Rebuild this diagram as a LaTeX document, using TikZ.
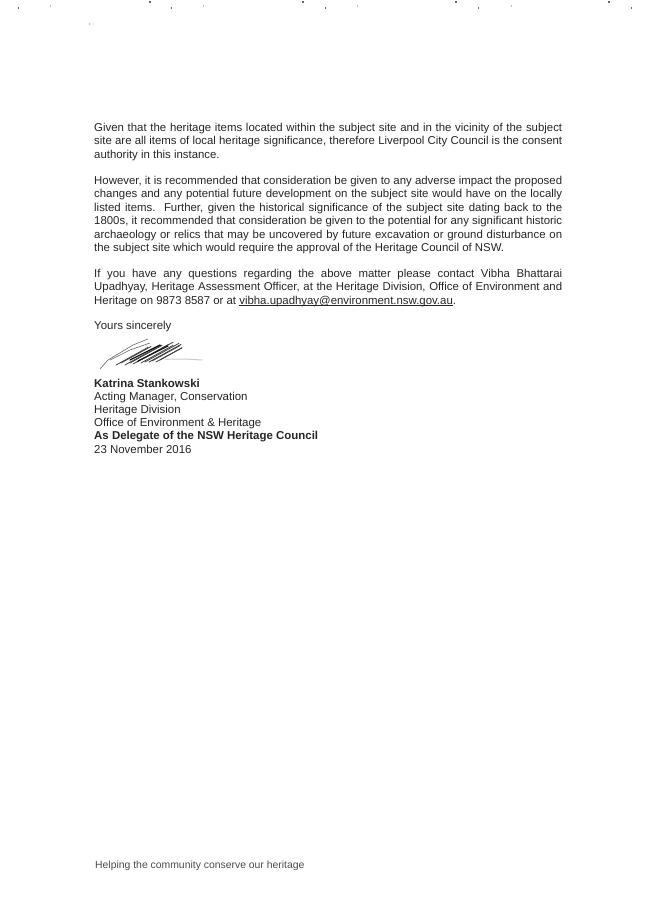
\documentclass[tikz,border=0pt]{standalone}
\usepackage{fontspec}
\setmainfont{Liberation Sans}
\usepackage{tikz}
\hyphenpenalty=10000
\newcommand{\mailline}[1]{\setbox0\hbox{#1}\rlap{\rule[-1.3pt]{\wd0}{0.6pt}}\box0}
\tikzset{
	lettertext/.style={inner sep=0pt, anchor=north west, text width=468pt, align=justify, font=\fontsize{11.4}{13.4}\selectfont, text=black!85},
	sigtext/.style={inner sep=0pt, anchor=north west, align=left, font=\fontsize{11.45}{13.2}\selectfont, text=black!85},
	footertext/.style={inner sep=0pt, anchor=north west, font=\fontsize{10.4}{13}\selectfont, text=black!70},
	pen/.style={line width=0.6pt, black!60, line cap=round},
	speck/.style={fill=black!60, draw=none},
	faintspeck/.style={fill=black!25, draw=none}
}
\begin{document}
\begin{tikzpicture}[x=1pt,y=-1pt]
	\useasboundingbox (0,0) rectangle (653,923);
	\fill[white] (0,0) rectangle (653,923);
	% registration specks along the top
	\foreach \sx in {18,171,325,478,631}
		\fill[speck] (\sx,7) rectangle ++(1.2,2);
	\foreach \sx in {149,302,455,608}
		\fill[speck] (\sx,1.5) rectangle ++(1.6,1.6);
	\foreach \sx in {50,203,357,511}
		\fill[faintspeck] (\sx,5.5) rectangle ++(0.8,1.5);
	\fill[faintspeck] (89,23) rectangle ++(0.6,2);
	\node[lettertext] (para-one) at (94,123) {
		Given that the heritage items located within the subject site and in the vicinity of the subject\linebreak
		site are all items of local heritage significance, therefore Liverpool City Council is the consent\linebreak
		authority in this instance.};
	\node[lettertext] (para-two) at (94,176) {
		However, it is recommended that consideration be given to any adverse impact the proposed\linebreak
		changes and any potential future development on the subject site would have on the locally\linebreak
		listed items.\ \ Further, given the historical significance of the subject site dating back to the\linebreak
		1800s, it recommended that consideration be given to the potential for any significant historic\linebreak
		archaeology or relics that may be uncovered by future excavation or ground disturbance on\linebreak
		the subject site which would require the approval of the Heritage Council of NSW.};
	\node[lettertext] (para-three) at (94,269) {
		If you have any questions regarding the above matter please contact Vibha Bhattarai\linebreak
		Upadhyay, Heritage Assessment Officer, at the Heritage Division, Office of Environment and\linebreak
		Heritage on 9873 8587 or at \mailline{vibha.upadhyay@environment.nsw.gov.au}.};
	\node[sigtext] (sign-off) at (94,321) {Yours sincerely};
	% signature scribble
	\draw[pen] (100,369) -- (108,360) -- (133,345) -- (148,339);
	\draw[pen] (110,360) -- (130,350) -- (150,343);
	\foreach \hx/\hy/\hl in {116/365/32, 121/363/30, 125/365/36, 130/363/32, 133/364/36, 137/362/36, 141/363/32, 145/362/34, 149/362/32, 152/361/28, 156/362/26, 160/360/22}
		\draw[pen, line width=0.8pt, black!75] (\hx,\hy) -- ++(\hl,-0.55*\hl);
	\draw[pen, line width=1.2pt, black!90] (130,360) -- (160,345);
	\draw[pen, line width=1.2pt, black!90] (138,361) -- (168,346);
	\draw[pen, black!20, line width=1pt] (165,359) -- (185,359) -- (202,360);
	\node[sigtext] (signatory) at (94,378.5) {
		\textbf{Katrina Stankowski}\\
		Acting Manager, Conservation\\
		Heritage Division\\
		Office of Environment \& Heritage\\
		\textbf{As Delegate of the NSW Heritage Council}\\
		23 November 2016};
	\node[footertext] (footer) at (95,861) {Helping the community conserve our heritage};
\end{tikzpicture}
\end{document}
